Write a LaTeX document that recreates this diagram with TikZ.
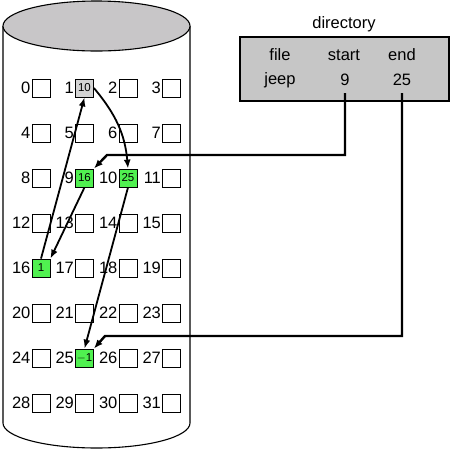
\documentclass[tikz,border=0pt]{standalone}
\usepackage{fontspec}
\setmainfont{Liberation Sans}
\usetikzlibrary{arrows.meta}
\definecolor{cylgray}{RGB}{200,198,200}
\definecolor{dirgray}{RGB}{198,198,198}
\definecolor{boxgray}{RGB}{212,212,212}
\definecolor{blockgreen}{RGB}{80,240,80}
\tikzset{
  blk/.style={draw=black, line width=0.8pt, minimum width=18pt, minimum height=18pt, inner sep=0pt, font=\fontsize{11.5}{12}\selectfont},
  used/.style={fill=blockgreen},
  lbl/.style={anchor=east, inner sep=1pt, font=\fontsize{16.5}{18}\selectfont},
  txt/.style={inner sep=0pt, font=\fontsize{16.5}{18}\selectfont},
  chain/.style={line width=1.8pt, -{Latex[length=9pt,width=7pt]}},
  ptr/.style={line width=2.4pt, -{Latex[length=9pt,width=7pt]}}
}
\begin{document}
\begin{tikzpicture}[x=1pt,y=-1pt]
\useasboundingbox (0,0) rectangle (450,451);
% cylinder
\draw[line width=1.1pt] (3,26) -- (3,423) arc[start angle=180, end angle=0, x radius=93.5, y radius=25] -- (190,26);
\draw[line width=1.1pt, fill=cylgray] (96.5,26) ellipse [x radius=93.5, y radius=25];
% blocks
\foreach \r in {0,...,7}{
  \foreach \c/\cx in {0/41,1/84.5,2/128,3/171.5}{
    \pgfmathtruncatemacro{\n}{4*\r+\c}
    \node[blk] (b\n) at (\cx,{88+45*\r}) {};
    \node[lbl] (l\n) at (b\n.west) {\n};
  }
}
\node[blk, fill=boxgray] at (b1) {10};
\node[blk, used] at (b9) {16};
\node[blk, used] at (b10) {25};
\node[blk, used] at (b16) {1};
\node[blk, used] at (b25) {$-$1};
% directory
\node[txt] (dirtitle) at (344,24) {directory};
\draw[line width=1.2pt, fill=dirgray] (240,37) rectangle (449,101);
\node[txt] (hfile) at (280,55) {file};
\node[txt] (hstart) at (344,55) {start};
\node[txt] (hend) at (402,55) {end};
\node[txt] (jeep) at (280,80) {jeep};
\node[txt] (nine) at (345,80) {9};
\node[txt] (tfive) at (402,80) {25};
\coordinate (c1) at (107,155);
\coordinate (c2) at (105,336);
\draw[ptr] ([yshift=-7pt]nine.south) |- (c1) -- (b9.north east);
\draw[ptr] ([yshift=-7pt]tfive.south) |- (c2) -- (b25.north east);
% chain
\draw[chain] (b16.north) -- (b1.south);
\draw[chain] (b1.east) to[out=-50,in=95] (b10.north);
\draw[chain] (b9.south) -- (b16.north east);
\draw[chain] (b10.south) -- (b25.north);
\end{tikzpicture}
\end{document}
